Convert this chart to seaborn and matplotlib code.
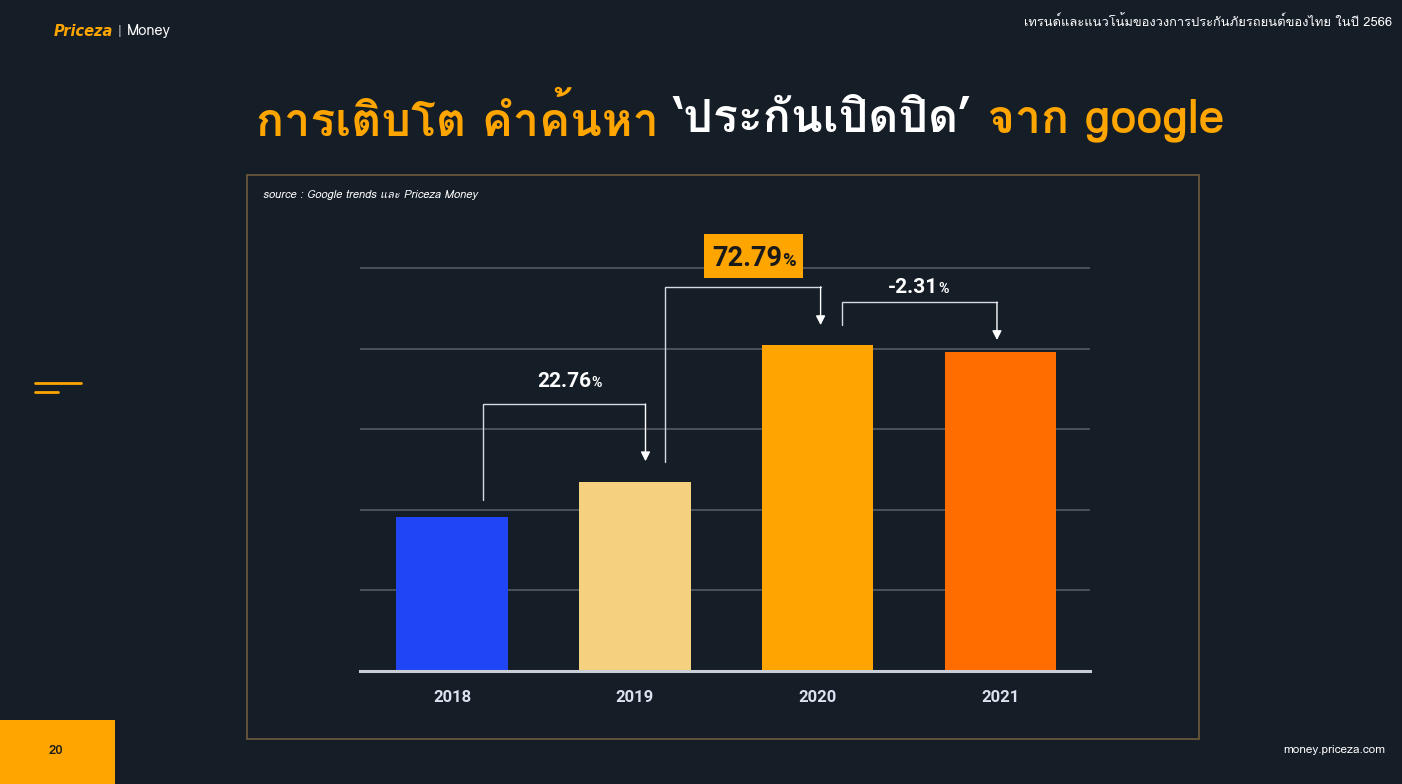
import matplotlib
matplotlib.use("Agg")
import matplotlib.pyplot as plt
import seaborn as sns
from matplotlib import font_manager
from matplotlib.patches import Rectangle
from matplotlib.lines import Line2D

# data (index, top gridline = 100)
years = ["2018", "2019", "2020", "2021"]
values = [38.2, 46.9, 81.0, 79.2]
growth = ["22.76", "72.79", "-2.31"]
bar_colors = ["#1f45f5", "#f5d07e", "#ffa400", "#ff6d00"]

BG = "#151d27"
ORANGE = "#ffa500"
W, H = 1402, 784


def find_thai_font():
    try:
        from fontTools.ttLib import TTFont
    except ImportError:
        return None
    for entry in font_manager.fontManager.ttflist:
        try:
            tt = TTFont(entry.fname, fontNumber=0, lazy=True)
            cmap = tt.getBestCmap()
            if cmap and 0x0E01 in cmap and 0x0E40 in cmap:
                return entry.name
        except Exception:
            pass
    return None


sns.set_style("white", {"axes.facecolor": BG, "figure.facecolor": BG})
thai = find_thai_font()
fams = ([thai] if thai else []) + ["DejaVu Sans"]
plt.rcParams["font.family"] = fams
NUM = ["Roboto", "DejaVu Sans"]

fig = plt.figure(figsize=(W / 100, H / 100), dpi=100)
fig.patch.set_facecolor(BG)


def fx(px):
    return px / W


def fy(py):
    return 1 - py / H


ax = fig.add_axes([fx(360), fy(671), fx(730), (671 - 220) / H])
sns.barplot(x=years, y=values, hue=years, palette=bar_colors, legend=False,
            width=0.61, saturation=1, linewidth=0, ax=ax)
ax.set_xlim(-0.504, 3.49)
ax.set_ylim(0, 112)
ax.set_yticks([0, 20, 40, 60, 80, 100])
ax.yaxis.grid(True, color="#4b525a", lw=1.4)
ax.set_axisbelow(True)
ax.set_yticklabels([])
ax.set_xticks(range(len(years)))
ax.set_xticklabels(years, fontweight="bold", family=NUM, fontsize=12,
                   color="#dde0f0")
ax.set_xlabel("")
ax.set_ylabel("")
for s in ["left", "right", "top"]:
    ax.spines[s].set_visible(False)
ax.spines["bottom"].set_color("#c9ced6")
ax.spines["bottom"].set_linewidth(2.2)
ax.tick_params(axis="x", length=0, pad=14)
ax.tick_params(axis="y", length=0)

# growth brackets
LINE = "#d6dae0"
brackets = [
    # (x_start, x_end, y_start, y_top, y_tip)
    (0.17, 1.058, values[0] + 4.3, 66.3, values[1] + 5.2),
    (1.167, 2.016, values[1] + 5.0, 95.4, values[2] + 4.9),
    (2.132, 2.981, values[2] + 4.9, 91.6, values[3] + 3.0),
]
for x0, x1, ys, yt, ytip in brackets:
    ax.plot([x0, x0, x1], [ys, yt, yt], color=LINE, lw=1, clip_on=False,
            solid_joinstyle="miter")
    ax.annotate("", xy=(x1, ytip), xytext=(x1, yt), annotation_clip=False,
                arrowprops=dict(arrowstyle="-|>,head_length=0.55,head_width=0.28",
                                color="white", lw=1, shrinkA=0, shrinkB=0))

label_pos = [(0.64, 72.3), (1.65, 103.0), (2.55, 95.6)]
label_size = [15, 19.5, 15]
label_color = ["white", "#1a1a1a", "white"]
ax.add_patch(Rectangle((label_pos[1][0] - 0.27, label_pos[1][1] - 5.5), 0.54, 11.0,
                       facecolor=ORANGE, edgecolor="none", clip_on=False, zorder=3))
labels = []
for g, (lx, ly), sz, c in zip(growth, label_pos, label_size, label_color):
    base = ly - sz * 0.123  # put cap height centred on ly
    tn = ax.text(lx, base, g, ha="left", va="baseline", fontsize=sz,
                 fontweight="bold", color=c, clip_on=False, zorder=4, family=NUM)
    tp = ax.text(lx, base, "%", ha="left", va="baseline", fontsize=sz * 0.68,
                 fontweight="bold", color=c, clip_on=False, zorder=4, family=NUM)
    labels.append((tn, tp, lx))

# frame around chart
fig.add_artist(Rectangle((fx(247), fy(739)), fx(1199 - 247), (739 - 175) / H,
                         transform=fig.transFigure, fill=False,
                         edgecolor="#6e5b3b", lw=1.2))
fig.text(fx(263), fy(195), "source : Google trends และ Priceza Money",
         fontsize=8, style="italic", color="white", va="center", ha="left")

# title in two colours
parts = [("การเติบโต คำค้นหา ", ORANGE), ("‘ประกันเปิดปิด’", "white"),
         (" จาก google", ORANGE)]
texts = [fig.text(0, fy(120), s, color=c, fontsize=33.5, fontweight="bold",
                  va="center", ha="left") for s, c in parts]

fig.canvas.draw()
r = fig.canvas.get_renderer()
widths = [t.get_window_extent(r).width for t in texts]
x = 740 - sum(widths) / 2
for t, w in zip(texts, widths):
    t.set_x(fx(x))
    x += w

# center number + small percent sign as one group
inv = ax.transData.inverted()
for tn, tp, lx in labels:
    wn = tn.get_window_extent(r).width
    wp = tp.get_window_extent(r).width
    cx = ax.transData.transform((lx, 0))[0]
    left = cx - (wn + wp) / 2
    tn.set_x(inv.transform((left, 0))[0])
    tp.set_x(inv.transform((left + wn, 0))[0])

# header / footer
fig.text(fx(54), fy(31), "Priceza", fontsize=10.5, fontweight="bold",
         style="italic", color=ORANGE, va="center", family="DejaVu Sans")
fig.text(fx(120), fy(31), "|", fontsize=10, color="#aaaaaa", va="center", ha="center")
fig.text(fx(127), fy(31), "Money", fontsize=10.5, color="white", va="center")
fig.text(fx(1392), fy(22), "เทรนด์และแนวโน้มของวงการประกันภัยรถยนต์ของไทย ในปี 2566",
         fontsize=9.3, color="white", ha="right", va="center")
fig.add_artist(Line2D([fx(35), fx(81)], [fy(383), fy(383)], color=ORANGE, lw=2))
fig.add_artist(Line2D([fx(35), fx(58)], [fy(392), fy(392)], color=ORANGE, lw=2))
fig.add_artist(Rectangle((0, 0), fx(115), 64 / H, transform=fig.transFigure,
                         facecolor=ORANGE, edgecolor="none"))
fig.text(fx(56), fy(751), "20", fontsize=9.5, fontweight="bold", color="#1a1a1a",
         ha="center", va="center")
fig.text(fx(1385), fy(750), "money.priceza.com", fontsize=8.5, color="white",
         ha="right", va="center")

fig.savefig("out.png", dpi=100, facecolor=BG)
